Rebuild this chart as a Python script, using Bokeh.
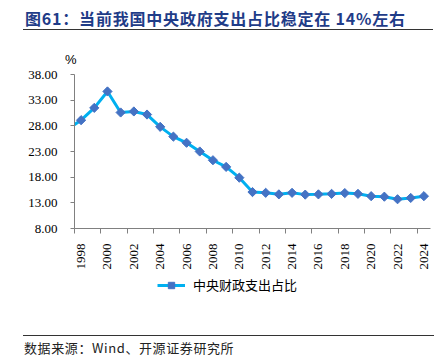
import math
from bokeh.plotting import figure
from bokeh.layouts import column
from bokeh.models import (Range1d, FixedTicker, PrintfTickFormatter, Legend, LegendItem,
                          Div, ColumnDataSource)
from bokeh.embed import file_html
from bokeh.resources import INLINE

# ---- data ----
years = list(range(1997, 2025))
share = [27.4, 29.1, 31.5, 34.7, 30.6, 30.8, 30.2, 27.8, 25.9, 24.7,
         23.0, 21.3, 20.0, 17.9, 15.1, 14.95, 14.65, 14.95, 14.6, 14.65,
         14.75, 14.9, 14.75, 14.3, 14.2, 13.7, 13.95, 14.3]
label_years = list(range(1998, 2025, 2))
y_ticks = [8, 13, 18, 23, 28, 33, 38]
title_text = "图61：当前我国中央政府支出占比稳定在 14%左右"
unit_text = "%"
series_name = "中央财政支出占比"
source_text = "数据来源：Wind、开源证券研究所"

W = 447
CJK = "Noto Sans CJK SC"
SERIF = "Liberation Serif"
LINE_COLOR = "#00B0F0"
MARK_COLOR = "#4472C4"

src = ColumnDataSource(data=dict(year=years, share=share))

# ---- header: title with rule below it, unit ----
header = Div(width=W, height=66, margin=(0, 0, 0, 0), text=(
    '<div style="position:relative;width:447px;height:66px;">'
    '<div style="position:absolute;left:23px;top:0px;width:410px;height:30px;'
    'padding-left:2px;border-bottom:1px solid #333333;white-space:nowrap;letter-spacing:0.8px;'
    "font-family:'Noto Sans CJK SC';font-weight:bold;font-size:16px;line-height:37px;"
    'color:#1F3C88;overflow:visible;">' + title_text + '</div>'
    '<div style="position:absolute;left:65px;top:52px;white-space:nowrap;'
    "font-family:'Liberation Sans';font-size:13px;line-height:15px;color:#000;\">"
    + unit_text + '</div></div>'))

# ---- main chart ----
p = figure(width=W, height=206, x_range=Range1d(1997.5, 2024.5), y_range=Range1d(8, 38),
           output_backend="svg", toolbar_location=None,
           min_border_left=74, min_border_right=17, min_border_top=8, min_border_bottom=40)
p.grid.visible = False
p.outline_line_color = None

p.line("year", "share", source=src, line_color=LINE_COLOR, line_width=3)
p.scatter("year", "share", source=src, marker="square", angle=math.pi / 4, size=6.5,
          fill_color=MARK_COLOR, line_color=MARK_COLOR)

xa = p.xaxis[0]
xa.ticker = FixedTicker(ticks=label_years, minor_ticks=[y - 0.5 for y in label_years])
xa.major_tick_line_color = None
xa.major_tick_out = 0
xa.major_tick_in = 0
xa.minor_tick_out = 5
xa.minor_tick_in = 0
xa.minor_tick_line_color = "#808080"
xa.axis_line_color = "#808080"
xa.major_label_orientation = math.pi / 2
xa.major_label_standoff = 10
xa.major_label_text_font = SERIF
xa.major_label_text_font_size = "13px"
xa.major_label_text_color = "#000000"

ya = p.yaxis[0]
ya.ticker = FixedTicker(ticks=y_ticks, minor_ticks=[])
ya.formatter = PrintfTickFormatter(format="%.2f")
ya.major_tick_out = 4
ya.major_tick_in = 0
ya.major_tick_line_color = "#808080"
ya.axis_line_color = "#808080"
ya.major_label_standoff = 13
ya.major_label_text_font = SERIF
ya.major_label_text_font_size = "13px"
ya.major_label_text_color = "#000000"

# ---- legend strip (its renderers' data lies outside this strip's view) ----
lg = figure(width=W, height=28, x_range=Range1d(0, 1), y_range=Range1d(0, 1),
            output_backend="svg", toolbar_location=None,
            min_border_left=74, min_border_right=17, min_border_top=0, min_border_bottom=0)
lg.axis.visible = False
lg.grid.visible = False
lg.outline_line_color = None
lr = lg.line("year", "share", source=src, line_color=LINE_COLOR, line_width=3)
ls = lg.scatter("year", "share", source=src, marker="square", angle=math.pi / 4, size=6.5,
                fill_color=MARK_COLOR, line_color=MARK_COLOR)
legend = Legend(items=[LegendItem(label=series_name, renderers=[lr, ls])],
                location=(83, 6), orientation="horizontal",
                glyph_width=28, glyph_height=16, label_height=16, label_standoff=8,
                padding=0, margin=0, border_line_color=None, background_fill_alpha=0,
                label_text_font=CJK, label_text_font_size="13px", label_text_color="#000000")
lg.add_layout(legend, "center")

# ---- footer: rule above the source note ----
footer = Div(width=W, height=58, margin=(0, 0, 0, 0), text=(
    '<div style="position:relative;width:447px;height:58px;">'
    '<div style="position:absolute;left:23px;top:35px;width:411px;height:18px;'
    'padding-left:1px;padding-top:4px;border-top:1px solid #333333;white-space:nowrap;'
    "letter-spacing:0.6px;font-family:'Noto Sans CJK SC';font-size:13px;line-height:16px;"
    'color:#222222;">' + source_text + '</div></div>'))

layout = column(header, p, lg, footer, spacing=0)
open("out.html", "w").write(file_html(layout, INLINE))
